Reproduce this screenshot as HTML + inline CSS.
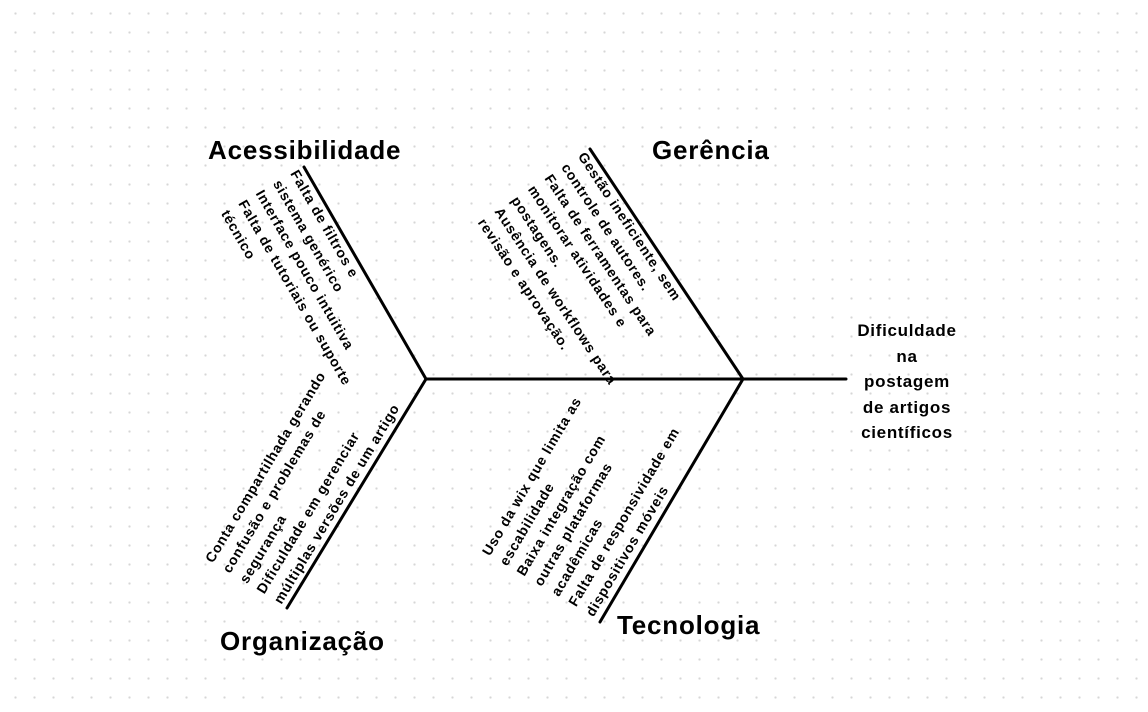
<!DOCTYPE html>
<html><head><meta charset="utf-8"><style>
html,body{margin:0;padding:0}
body{width:1148px;height:712px;position:relative;overflow:hidden;background-color:#fff;
background-image:radial-gradient(circle,#d6d6d6 1px,transparent 1.3px);background-size:19px 19px;background-position:6px 4px;
font-family:"Liberation Sans",sans-serif;font-weight:bold;color:#000}
.t{position:absolute;font-size:26px;letter-spacing:0.8px;white-space:nowrap}
.b{position:absolute;font-size:14px;letter-spacing:0.8px;line-height:20px;white-space:nowrap;transform-origin:0 0}
.r{position:absolute;left:842px;top:318px;width:130px;text-align:center;font-size:17px;letter-spacing:0.7px;line-height:25.5px}
</style></head><body>
<svg width="1148" height="712" style="position:absolute;left:0;top:0">
<g stroke="#000" stroke-width="3" fill="none" stroke-linecap="round">
<line x1="426" y1="379" x2="846" y2="379"/>
<line x1="304" y1="167" x2="426" y2="379"/>
<line x1="590" y1="149" x2="743" y2="379"/>
<line x1="426" y1="379" x2="287" y2="608"/>
<line x1="743" y1="379" x2="600" y2="622"/>
</g></svg>
<div class="t" style="left:208px;top:135px">Acessibilidade</div>
<div class="t" style="left:652px;top:135px">Gerência</div>
<div class="t" style="left:220px;top:626px">Organização</div>
<div class="t" style="left:617px;top:610px">Tecnologia</div>
<div class="r">Dificuldade<br>na<br>postagem<br>de artigos<br>científicos</div>
<div class="b" style="left:303px;top:166px;transform:rotate(60deg)">Falta de filtros e<br>sistema genérico<br>Interface pouco intuitiva<br>Falta de tutoriais ou suporte<br>técnico</div>
<div class="b" style="left:590px;top:148px;transform:rotate(56.5deg)">Gestão ineficiente, sem<br>controle de autores.<br>Falta de ferramentas para<br>monitorar atividades e<br>postagens.<br>Ausência de workflows para<br>revisão e aprovação.</div>
<div class="b" style="left:200px;top:556px;transform:rotate(-59deg)">Conta compartilhada gerando<br>confusão e problemas de<br>segurança<br>Dificuldade em gerenciar<br>múltiplas versões de um artigo</div>
<div class="b" style="left:477px;top:549px;transform:rotate(-59.5deg)">Uso da wix que limita as<br>escabilidade<br>Baixa integração com<br>outras plataformas<br>acadêmicas<br>Falta de responsividade em<br>dispositivos móveis</div>
</body></html>
